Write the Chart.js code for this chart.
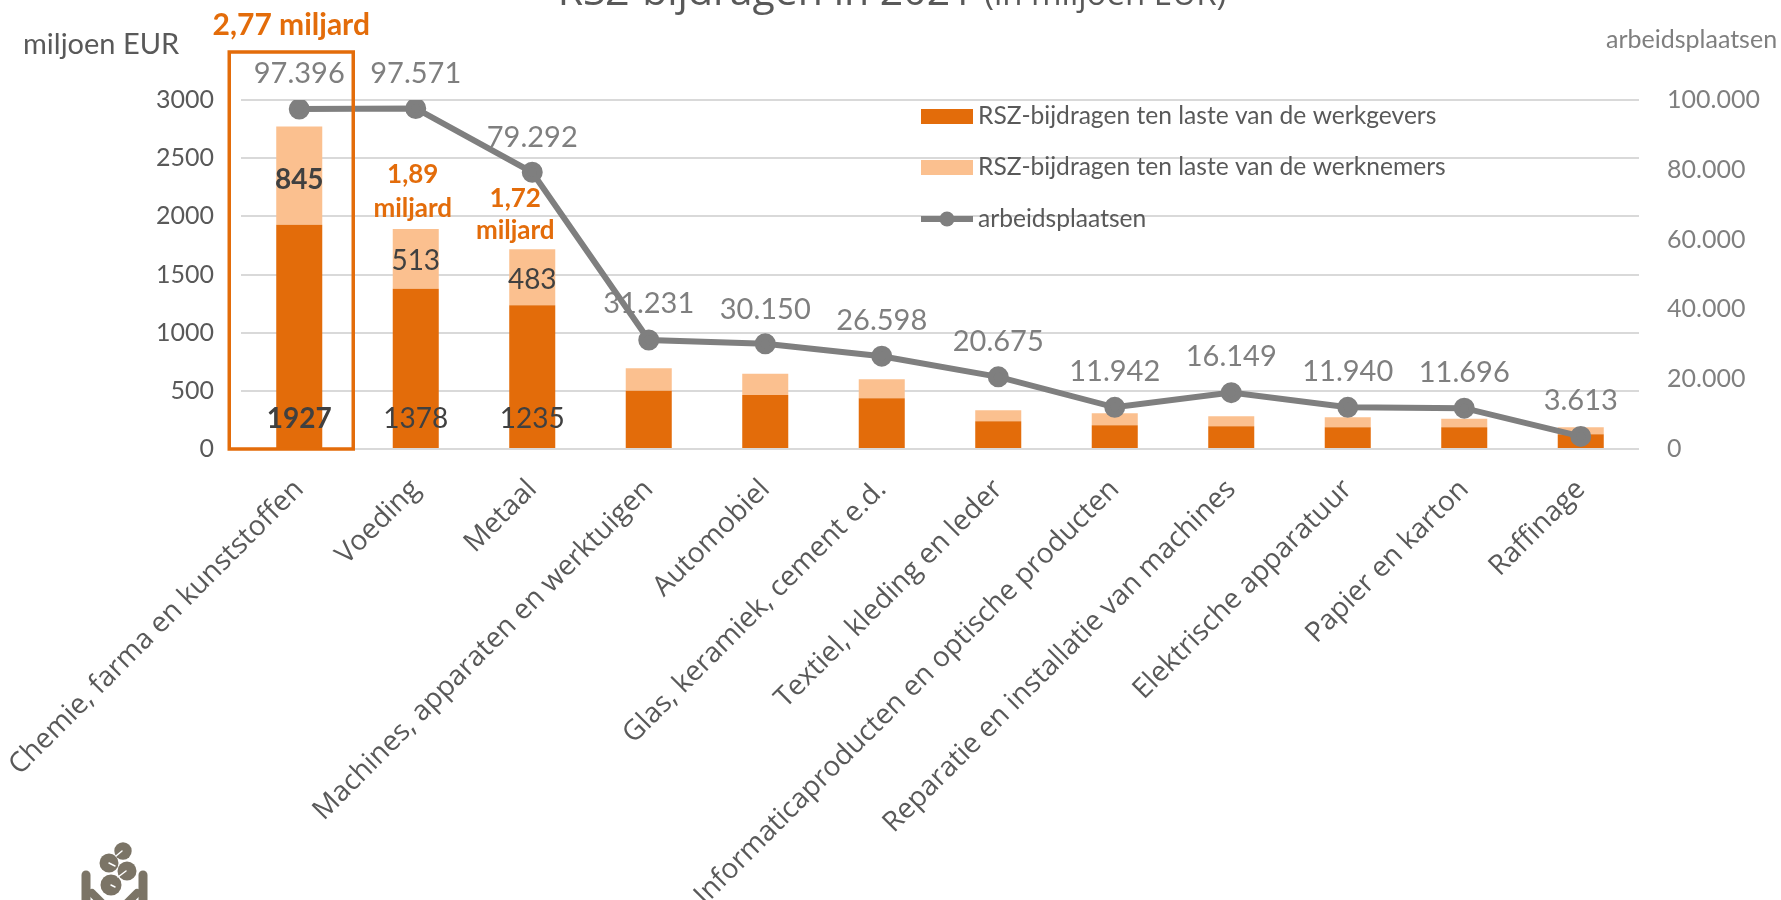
<!DOCTYPE html>
<html>
<head>
<meta charset="utf-8">
<title>RSZ-bijdragen</title>
<script src="https://cdn.jsdelivr.net/npm/chart.js@4"></script>
<style>
    html, body { margin: 0; padding: 0; background: #fff; overflow: hidden; }
    canvas { display: block; }
</style>
</head>
<body>
<canvas id="rszChart" width="1781" height="900"></canvas>
<script>
const sectors = ['Chemie, farma en kunststoffen', 'Voeding', 'Metaal', 'Machines, apparaten en werktuigen', 'Automobiel',
    'Glas, keramiek, cement e.d.', 'Textiel, kleding en leder', 'Informaticaproducten en optische producten',
    'Reparatie en installatie van machines', 'Elektrische apparatuur', 'Papier en karton', 'Raffinage'];
const employerValues = [1927, 1378, 1235, 500, 465, 437, 238, 204, 195, 187, 187, 126];
const employeeValues = [845, 513, 483, 195, 182, 163, 95, 103, 87, 86, 74, 61];
const jobValues = [97396, 97571, 79292, 31231, 30150, 26598, 20675, 11942, 16149, 11940, 11696, 3613];
const leftTicks = [0, 500, 1000, 1500, 2000, 2500, 3000];
const rightTicks = [0, 20000, 40000, 60000, 80000, 100000];

const ORANGE = '#E36C0A';
const LIGHT = '#FBC08F';
const GREY = '#7F7F7F';
const TEXT = '#595959';
const LOGO = '#7B7466';
const FONT = 'Lato, "Open Sans", sans-serif';
const SLANTED = '"Open Sans", sans-serif';

function dots(n) {
    return String(n).replace(/\B(?=(\d{3})+$)/g, '.');
}

function put(ctx, text, x, y, font, color, align) {
    ctx.font = font;
    ctx.fillStyle = color;
    ctx.textAlign = align || 'center';
    ctx.textBaseline = 'middle';
    ctx.fillText(text, x, y);
}

function segment(ctx, s) {
    ctx.beginPath();
    ctx.moveTo(s[0], s[1]);
    ctx.lineTo(s[2], s[3]);
    ctx.stroke();
}

// value labels, totals, box and the loose texts around the plot
const extras = {
    id: 'extras',
    afterDatasetsDraw(chart) {
        const ctx = chart.ctx;
        const x = chart.scales.x;
        const y = chart.scales.y;
        const y2 = chart.scales.y2;
        ctx.save();

        // value labels inside the first three bars
        [0, 1, 2].forEach(i => {
            const weight = i === 0 ? 'bold ' : '';
            put(ctx, employerValues[i], x.getPixelForValue(i), y.getPixelForValue(255), weight + '28px ' + FONT, '#404040');
            put(ctx, employeeValues[i], x.getPixelForValue(i), y.getPixelForValue(employerValues[i] + employeeValues[i] / 2 + (i === 0 ? -40 : -20)), weight + '28px ' + FONT, '#404040');
        });

        // job numbers above the line
        const offsets = [-35, -35, -35, -36, -34, -36, -35, -36, -36, -36, -36, -36];
        jobValues.forEach((v, i) => {
            put(ctx, dots(v), x.getPixelForValue(i), y2.getPixelForValue(v) + offsets[i], '29px ' + FONT, GREY);
        });

        // totals
        const boxLeft = x.getPixelForValue(0) - 70;
        const boxRight = x.getPixelForValue(0) + 54;
        ctx.strokeStyle = ORANGE;
        ctx.lineWidth = 3.5;
        ctx.strokeRect(boxLeft, 52, boxRight - boxLeft, y.getPixelForValue(0) - 52);
        put(ctx, '2,77 miljard', x.getPixelForValue(0) - 8, 25, 'bold 30px ' + FONT, ORANGE);
        put(ctx, '1,89', x.getPixelForValue(1) - 3, 175, 'bold 26px ' + FONT, ORANGE);
        put(ctx, 'miljard', x.getPixelForValue(1) - 3, 209, 'bold 26px ' + FONT, ORANGE);
        put(ctx, '1,72', x.getPixelForValue(2) - 17, 199, 'bold 26px ' + FONT, ORANGE);
        put(ctx, 'miljard', x.getPixelForValue(2) - 17, 231, 'bold 26px ' + FONT, ORANGE);

        // title, cut off by the top of the picture
        ctx.textBaseline = 'alphabetic';
        ctx.textAlign = 'left';
        ctx.fillStyle = TEXT;
        ctx.font = '41px "Open Sans", sans-serif';
        const head = 'RSZ-bijdragen in 2021 ';
        const headWidth = ctx.measureText(head).width;
        ctx.font = '33px "Open Sans", sans-serif';
        const tailWidth = ctx.measureText('(in miljoen EUR)').width;
        const titleLeft = 892 - (headWidth + tailWidth) / 2;
        ctx.font = '41px "Open Sans", sans-serif';
        ctx.fillText(head, titleLeft, 5);
        ctx.font = '33px "Open Sans", sans-serif';
        ctx.fillText('(in miljoen EUR)', titleLeft + headWidth, 5);

        // axis captions
        put(ctx, 'miljoen EUR', 23, 45, '29px ' + FONT, TEXT, 'left');
        put(ctx, 'arbeidsplaatsen', 1606, 40, '25px ' + FONT, GREY, 'left');

        // legend
        const swatchX = 921;
        const texts = chart.data.datasets.map(d => d.label);
        ctx.fillStyle = ORANGE;
        ctx.fillRect(swatchX, 109, 52, 15);
        ctx.fillStyle = LIGHT;
        ctx.fillRect(swatchX, 160, 52, 15);
        ctx.strokeStyle = GREY;
        ctx.lineWidth = 6;
        segment(ctx, [swatchX, 219, swatchX + 52, 219]);
        ctx.fillStyle = GREY;
        ctx.beginPath();
        ctx.arc(swatchX + 26, 219, 7.5, 0, Math.PI * 2);
        ctx.fill();
        [116, 167, 219].forEach((top, i) => {
            put(ctx, texts[i], 978, top, '24.6px ' + FONT, TEXT, 'left');
        });

        // logo
        ctx.fillStyle = LOGO;
        [[123, 851, 8.7], [109, 863, 9.5], [127, 871, 9.5], [111, 885, 10.5]].forEach(c => {
            ctx.beginPath();
            ctx.arc(c[0], c[1], c[2], 0, Math.PI * 2);
            ctx.fill();
        });
        ctx.lineCap = 'round';
        ctx.strokeStyle = '#fff';
        ctx.lineWidth = 1.5;
        [[116, 856, 122, 851], [109, 863, 115, 866], [118, 877, 126, 871], [111, 885, 115, 887]].forEach(s => segment(ctx, s));
        ctx.strokeStyle = LOGO;
        ctx.lineWidth = 9;
        [[86, 875, 86, 905], [143, 875, 143, 905]].forEach(s => segment(ctx, s));
        ctx.lineWidth = 8;
        [[92, 893, 104, 905], [137, 893, 125, 905]].forEach(s => segment(ctx, s));
        ctx.restore();
    }
};

new Chart(document.getElementById('rszChart'), {
    type: 'bar',
    plugins: [extras],
    data: {
        labels: sectors,
        datasets: [
            { label: 'RSZ-bijdragen ten laste van de werkgevers', data: employerValues, backgroundColor: ORANGE, yAxisID: 'y', stack: 'rsz', order: 2 },
            { label: 'RSZ-bijdragen ten laste van de werknemers', data: employeeValues, backgroundColor: LIGHT, yAxisID: 'y', stack: 'rsz', order: 2 },
            {
                type: 'line', label: 'arbeidsplaatsen', data: jobValues, yAxisID: 'y2', order: 1,
                borderColor: GREY, backgroundColor: GREY, borderWidth: 6, pointRadius: 7.5, pointBackgroundColor: GREY, tension: 0
            }
        ]
    },
    options: {
        responsive: false,
        animation: false,
        layout: { padding: { top: 100, left: 0, right: 0, bottom: 0 } },
        datasets: { bar: { barPercentage: 0.395, categoryPercentage: 1 } },
        plugins: { legend: { display: false }, title: { display: false }, tooltip: { enabled: false } },
        scales: {
            x: {
                stacked: true,
                grid: { display: false },
                border: { display: false },
                // long slanted labels must not push the plot to the right
                afterFit(scale) {
                    scale.height = 451;
                    scale.paddingLeft = 0;
                    scale.paddingRight = 0;
                },
                ticks: {
                    autoSkip: false, minRotation: 45, maxRotation: 45, padding: 16,
                    color: TEXT, font: { family: SLANTED, size: 28 }
                }
            },
            y: {
                stacked: true,
                min: 0, max: 3000,
                grid: { color: '#D9D9D9', lineWidth: 2, drawTicks: false },
                border: { display: false },
                afterFit(scale) { scale.width = 241; },
                afterBuildTicks(scale) { scale.ticks = leftTicks.map(v => ({ value: v })); },
                ticks: { color: TEXT, padding: 27, font: { family: FONT, size: 25 }, callback: v => String(v) }
            },
            y2: {
                position: 'right',
                min: 0, max: 100000,
                grid: { display: false },
                border: { display: false },
                afterFit(scale) { scale.width = 142; },
                afterBuildTicks(scale) { scale.ticks = rightTicks.map(v => ({ value: v })); },
                ticks: { color: GREY, padding: 20, font: { family: FONT, size: 25 }, callback: v => dots(v) }
            }
        }
    }
});
</script>
</body>
</html>
